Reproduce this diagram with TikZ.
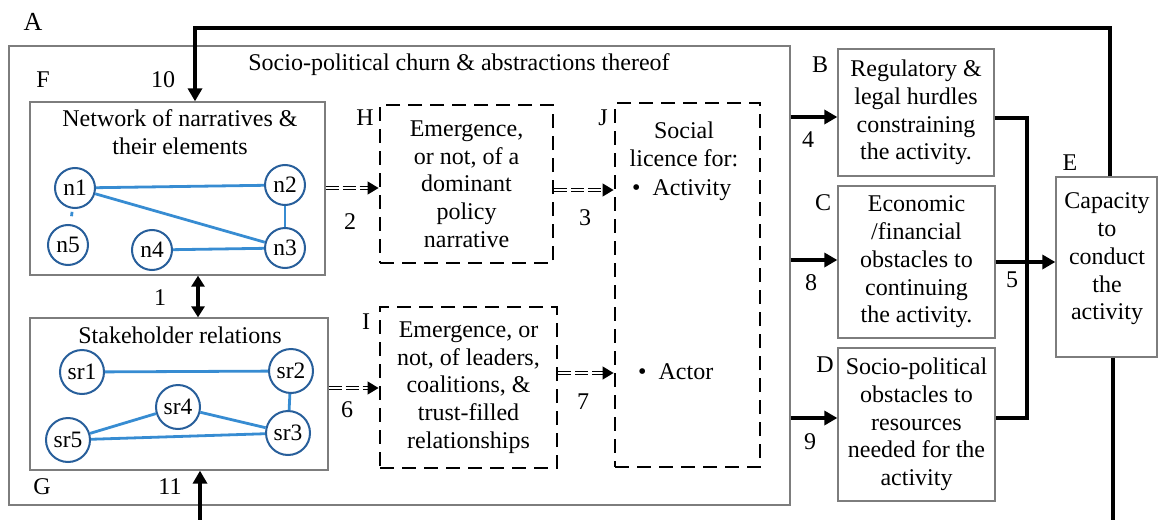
\documentclass[tikz,border=0pt]{standalone}
\usepackage{fontspec}
\setmainfont{Liberation Serif}
\usetikzlibrary{arrows.meta,calc}
\definecolor{boxgray}{RGB}{125,125,125}
\definecolor{nodeblue}{RGB}{40,95,155}
\definecolor{edgeblue}{RGB}{55,140,210}
\tikzset{
  every node/.style={font=\fontsize{24}{27.7}\selectfont},
  plainbox/.style={draw=boxgray, line width=1.3pt, align=center, inner sep=0pt},
  dashbox/.style={draw=black, line width=2.9pt, dash pattern=on 14pt off 8pt, align=center, inner sep=0pt},
  netnode/.style={circle, draw=nodeblue, line width=2pt, inner sep=0pt, minimum size=40pt, font=\fontsize{23.5}{26}\selectfont},
  srnode/.style={netnode, minimum size=44pt},
  netedge/.style={draw=edgeblue, line width=2.8pt},
  thickarrow/.style={line width=3.8pt, -{Triangle[length=13pt,width=14pt]}},
  thickline/.style={line width=3.8pt},
  dblarrow/.style={line width=1.3pt, double distance=2.2pt, dash pattern=on 13pt off 4pt, -{Triangle[length=11pt,width=13pt]}},
  tag/.style={inner sep=0pt},
}
\begin{document}
\begin{tikzpicture}[x=1pt,y=-1pt]
\useasboundingbox (0,0) rectangle (1158,519);

% outer frame and its heading
\node[plainbox, minimum width=781pt, minimum height=459pt] (A) at (399.5,275.5) {};
\node[tag, font=\fontsize{26}{28}\selectfont] (Atag) at (33,22) {A};
\node[tag] (title) at (459,65) {Socio-political churn \& abstractions thereof};

% network of narratives
\node[plainbox, minimum width=295pt, minimum height=173pt] (F) at (177.5,188.5) {};
\node[tag] (Ftag) at (43,80) {F};
\node[tag, align=center] (Ftitle) at (180,132) {Network of narratives \&\\their elements};
\node[netnode] (n1) at (75,188) {n1};
\node[netnode] (n2) at (285,185) {n2};
\node[netnode] (n3) at (285,248) {n3};
\node[netnode] (n4) at (152,250) {n4};
\node[netnode] (n5) at (68,245) {n5};
\draw[netedge] (n1) -- (n2);
\draw[netedge] (n1) -- (n3);
\draw[netedge] (n2) -- (n3);
\draw[netedge] (n4) -- (n3);
\draw[netedge, shorten <=3pt, shorten >=8pt] (n1) -- (n5);

% stakeholder relations
\node[plainbox, minimum width=298pt, minimum height=152pt] (G) at (179,394) {};
\node[tag] (Gtag) at (42,487) {G};
\node[tag] (Gtitle) at (180,335) {Stakeholder relations};
\node[srnode] (sr1) at (82,372) {sr1};
\node[srnode] (sr2) at (291,371) {sr2};
\node[srnode] (sr3) at (288,433) {sr3};
\node[srnode] (sr4) at (178,407) {sr4};
\node[srnode] (sr5) at (68,440) {sr5};
\draw[netedge] (sr1) -- (sr2);
\draw[netedge] (sr2) -- (sr3);
\draw[netedge] (sr4) -- (sr3);
\draw[netedge] (sr5) -- (sr4);
\draw[netedge] (sr5) -- (sr3);

% emergence boxes
\node[dashbox, minimum width=173pt, minimum height=158pt] (H) at (466.5,184)
  {Emergence,\\or not, of a\\dominant\\policy\\narrative};
\node[tag] (Htag) at (365,118) {H};
\node[dashbox, minimum width=177pt, minimum height=161pt] (I) at (468.5,387.5)
  {Emergence, or\\not, of leaders,\\coalitions, \&\\trust-filled\\relationships};
\node[tag] (Itag) at (366,322) {I};

% social licence
\node[dashbox, minimum width=145pt, minimum height=364pt] (J) at (687.5,285) {};
\node[tag] (Jtag) at (603,118) {J};
\node[tag, align=center] (Jtitle) at (684,144) {Social\\licence for:};
\node[tag, anchor=west] (Jact) at (632,190) {\textbullet\ \ Activity};
\node[tag, anchor=west] (Jactor) at (638,372) {\textbullet\ \ Actor};

% hurdles
\node[plainbox, minimum width=156pt, minimum height=127pt] (B) at (916,112.5)
  {Regulatory \&\\legal hurdles\\constraining\\the activity.};
\node[tag] (Btag) at (820,65) {B};
\node[plainbox, minimum width=157pt, minimum height=152pt] (C) at (916.5,262)
  {Economic\\/financial\\obstacles to\\continuing\\the activity.};
\node[tag] (Ctag) at (823,203) {C};
\node[plainbox, minimum width=157pt, minimum height=153pt] (D) at (916.5,424.5)
  {Socio-political\\obstacles to\\resources\\needed for the\\activity};
\node[tag] (Dtag) at (825,365) {D};

% capacity
\node[plainbox, minimum width=101pt, minimum height=180pt] (E) at (1106.5,267) {};
\node[tag, align=center] (Etext) at (1107,259) {Capacity\\to\\conduct\\the\\activity};
\node[tag] (Etag) at (1070,163) {E};

% flows inside the frame
\draw[line width=3.6pt, {Triangle[length=11pt,width=13pt]}-{Triangle[length=11pt,width=13pt]}]
  (F.south -| 198,0) -- (G.north -| 198,0);
\node[tag] (l1) at (160,298) {1};
\draw[dblarrow] (F.east |- 0,188) -- (H.west |- 0,188);
\node[tag] (l2) at (350,222) {2};
\draw[dblarrow] (H.east |- 0,190) -- (J.west |- 0,190);
\node[tag] (l3) at (585,218) {3};
\draw[dblarrow] (G.east |- 0,388) -- (I.west |- 0,388);
\node[tag] (l6) at (347,410) {6};
\draw[dblarrow] (I.east |- 0,373) -- (J.west |- 0,373);
\node[tag] (l7) at (583,402) {7};

% from the frame to the hurdles
\draw[thickarrow] (A.east |- 0,117) -- (B.west |- 0,117);
\node[tag] (l4) at (808,140) {4};
\draw[thickarrow] (A.east |- 0,260) -- (C.west |- 0,260);
\node[tag] (l8) at (811,283) {8};
\draw[thickarrow] (A.east |- 0,418) -- (D.west |- 0,418);
\node[tag] (l9) at (810,442) {9};

% hurdles into capacity
\coordinate (busTop) at (1027,118);
\coordinate (busBot) at (1027,418);
\draw[thickline] (B.east |- busTop) -- (busTop) -- (busBot) -- (D.east |- busBot);
\draw[thickarrow] (C.east |- 0,262) -- (E.west |- 0,262);
\node[tag] (l5) at (1012,280) {5};

% feedback loops
\coordinate (fbTopR) at (1110,28);
\coordinate (fbTopL) at (195,28);
\draw[thickarrow] (E.north -| fbTopR) -- (fbTopR) -- (fbTopL) -- (F.north -| fbTopL);
\node[tag] (l10) at (163,80) {10};
\begin{scope}
  \clip (0,0) rectangle (1158,519);
  \coordinate (fbBotR) at (1113,530);
  \coordinate (fbBotL) at (200,530);
  \draw[thickarrow] (E.south -| fbBotR) -- (fbBotR) -- (fbBotL) -- (G.south -| fbBotL);
\end{scope}
\node[tag] (l11) at (170,487) {11};
\end{tikzpicture}
\end{document}
